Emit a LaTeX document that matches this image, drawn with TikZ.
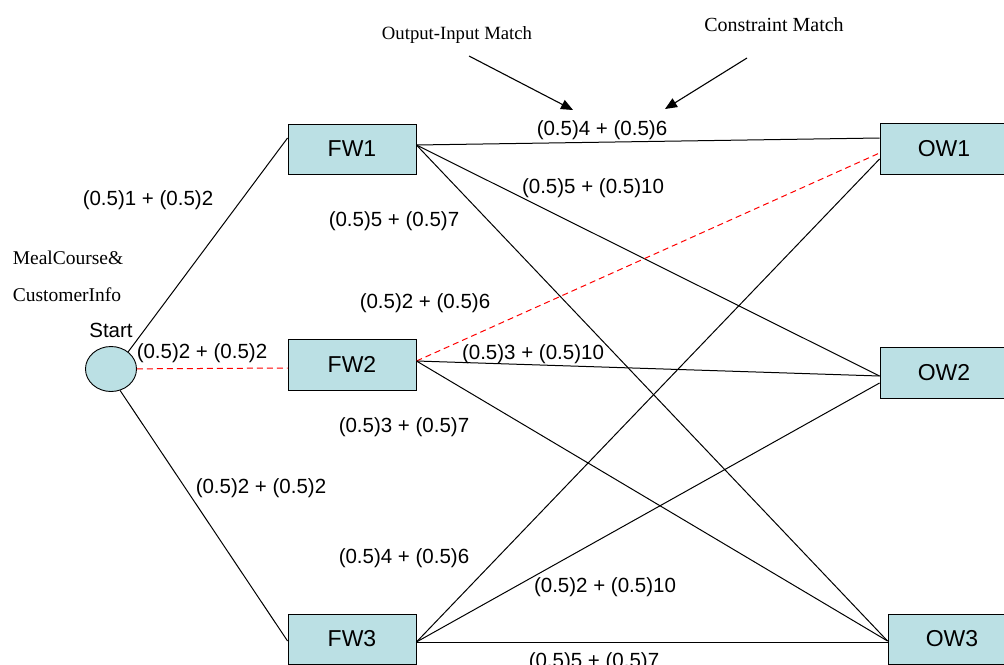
\documentclass[tikz,border=0pt]{standalone}
\usepackage{fontspec}
\setmainfont{Liberation Serif}
\newfontfamily\arialfam{Liberation Sans}
\usetikzlibrary{arrows.meta,shapes.geometric}
\definecolor{boxfill}{RGB}{187,224,228}
\begin{document}
\begin{tikzpicture}[x=1pt,y=-1pt,
  wbox/.style={draw=black, fill=boxfill, line width=0.9pt, minimum width=128pt,
    minimum height=50pt, inner sep=0pt, font=\arialfam\fontsize{23}{26}\selectfont},
  lbl/.style={font=\arialfam\fontsize{20.5}{24}\selectfont, inner sep=0pt},
  note/.style={font=\fontsize{19.5}{23}\selectfont, inner sep=0pt},
  link/.style={draw=black, line width=1pt},
  hot/.style={draw=red, line width=1pt, dash pattern=on 6pt off 4pt},
  pointer/.style={draw=black, line width=1.1pt, -{Triangle[length=12pt,width=10pt]}}]
\useasboundingbox (0,0) rectangle (1004,664);
\clip (0,0) rectangle (1004,664);

% start node and the two layers of services
\node[draw=black, fill=boxfill, ellipse, minimum width=51pt, minimum height=45pt,
      inner sep=0pt, line width=0.9pt] (Start) at (111,369) {};
\node[wbox] (FW1) at (352,149) {FW1};
\node[wbox, minimum height=51pt] (FW2) at (352,364.5) {FW2};
\node[wbox] (FW3) at (352,639) {FW3};
\node[wbox, minimum height=51pt] (OW1) at (944,148.5) {OW1};
\node[wbox, minimum height=51pt] (OW2) at (944,372.5) {OW2};
\node[wbox] (OW3) at (952,639) {OW3};

% edges from the start node
\draw[link] (Start.45) -- ([yshift=11pt]FW1.west);
\draw[hot] (Start) -- ([yshift=-3.5pt]FW2.west);
\draw[link] (Start.-67) -- ([yshift=-2pt]FW3.west);

% edges from FW1
\draw[link] ([yshift=4pt]FW1.east) -- ([yshift=10.5pt]OW1.west);
\draw[link] ([yshift=4pt]FW1.east) -- ([yshift=-3.5pt]OW2.west);
\draw[link] ([yshift=4pt]FW1.east) -- ([yshift=-2pt]OW3.west);

% edges from FW2
\draw[hot] ([yshift=3.5pt]FW2.east) -- ([yshift=-4.5pt]OW1.west);
\draw[link] ([yshift=3.5pt]FW2.east) -- ([yshift=-3.5pt]OW2.west);
\draw[link] ([yshift=3.5pt]FW2.east) -- ([yshift=-2pt]OW3.west);

% edges from FW3
\draw[link] ([yshift=-3pt]FW3.east) -- ([yshift=-10.5pt]OW1.west);
\draw[link] ([yshift=-3pt]FW3.east) -- ([yshift=-10.5pt]OW2.west);
\draw[link] ([yshift=-3pt]FW3.east) -- ([yshift=-3pt]OW3.west);

% edge weights
\node[lbl] (wS1) at (148,200) {(0.5)1 + (0.5)2};
\node[lbl] (wS2) at (202,353) {(0.5)2 + (0.5)2};
\node[lbl] (wS3) at (261,488) {(0.5)2 + (0.5)2};
\node[lbl] (w11) at (602,130) {(0.5)4 + (0.5)6};
\node[lbl] (w12) at (593,188) {(0.5)5 + (0.5)10};
\node[lbl] (w13) at (394,221) {(0.5)5 + (0.5)7};
\node[lbl] (w21) at (425,303) {(0.5)2 + (0.5)6};
\node[lbl] (w22) at (533,354) {(0.5)3 + (0.5)10};
\node[lbl] (w23) at (404,427) {(0.5)3 + (0.5)7};
\node[lbl] (w31) at (404,558) {(0.5)4 + (0.5)6};
\node[lbl] (w32) at (605,587) {(0.5)2 + (0.5)10};
\node[lbl] (w33) at (594,662) {(0.5)5 + (0.5)7};
\node[lbl] (startlbl) at (111,330) {Start};

% annotations
\node[note] (meal) at (68,258) {MealCourse\&};
\node[note] (cust) at (67,295) {CustomerInfo};
\node[note, font=\fontsize{18.7}{22}\selectfont] (oimatch) at (457,35) {Output-Input Match};
\node[note, font=\fontsize{20}{23}\selectfont] (cmatch) at (774,25) {Constraint Match};

\coordinate (oiTail) at (469,56);
\coordinate (oiTip) at (573,110);
\coordinate (cTail) at (747,58);
\coordinate (cTip) at (665,109);
\draw[pointer] (oiTail) -- (oiTip);
\draw[pointer] (cTail) -- (cTip);
\end{tikzpicture}
\end{document}
